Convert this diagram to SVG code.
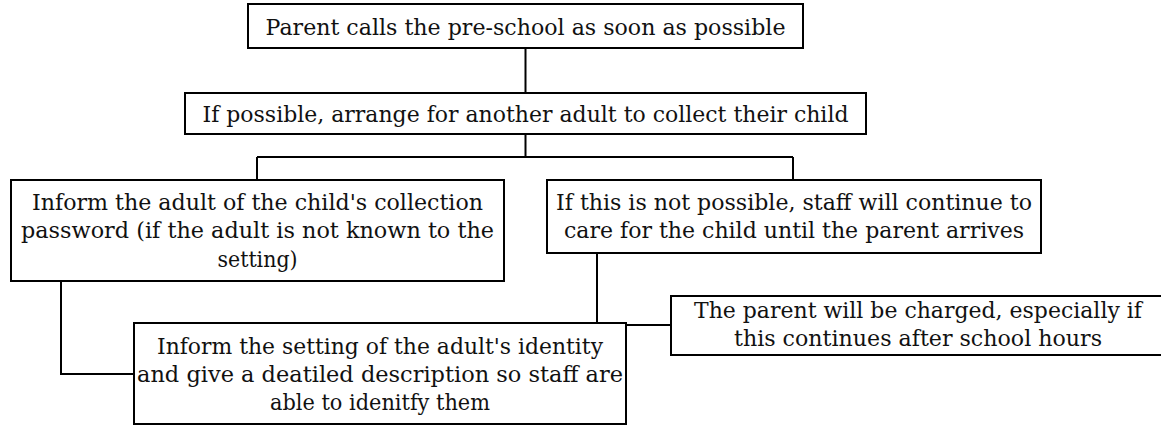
<svg xmlns="http://www.w3.org/2000/svg" width="1161" height="425" viewBox="0 0 1161 425">
<style>
.box{fill:#fff;stroke:#000;stroke-width:2}
.t{font-family:"DejaVu Serif","Liberation Serif",serif;font-size:23px;fill:#111;text-anchor:middle}
.c{fill:none;stroke:#000;stroke-width:2}
</style>
<rect width="1161" height="425" fill="#fff"/>
<g id="connectors">
<path class="c" d="M525.5 48V93M525.5 134V157M257 157H793M257 157V180M793 157V180M61 281V374H134M597 253V323M626 325H671"/>
</g>
<g id="n1">
<rect class="box" x="248" y="4" width="555" height="44"/>
<text class="t" x="525.5" y="34.5" textLength="520" lengthAdjust="spacingAndGlyphs">Parent calls the pre-school as soon as possible</text>
</g>
<g id="n2">
<rect class="box" x="185" y="93" width="681" height="41"/>
<text class="t" x="525.5" y="121.5" textLength="646" lengthAdjust="spacingAndGlyphs">If possible, arrange for another adult to collect their child</text>
</g>
<g id="n3">
<rect class="box" x="11" y="180" width="493" height="101"/>
<text class="t" x="257.5" y="209.5" textLength="451" lengthAdjust="spacingAndGlyphs">Inform the adult of the child's collection</text>
<text class="t" x="257.5" y="238" textLength="473" lengthAdjust="spacingAndGlyphs">password (if the adult is not known to the</text>
<text class="t" x="257.5" y="266.5" textLength="80" lengthAdjust="spacingAndGlyphs">setting)</text>
</g>
<g id="n4">
<rect class="box" x="547" y="180" width="494" height="73"/>
<text class="t" x="794" y="209.5" textLength="476" lengthAdjust="spacingAndGlyphs">If this is not possible, staff will continue to</text>
<text class="t" x="794" y="238" textLength="460" lengthAdjust="spacingAndGlyphs">care for the child until the parent arrives</text>
</g>
<g id="n5">
<rect class="box" x="134" y="323" width="492" height="101"/>
<text class="t" x="380" y="354" textLength="446" lengthAdjust="spacingAndGlyphs">Inform the setting of the adult's identity</text>
<text class="t" x="380" y="382" textLength="486" lengthAdjust="spacingAndGlyphs">and give a deatiled description so staff are</text>
<text class="t" x="380" y="410" textLength="220" lengthAdjust="spacingAndGlyphs">able to idenitfy them</text>
</g>
<g id="n6">
<rect class="box" x="671" y="296" width="491" height="59"/>
<text class="t" x="918" y="318" textLength="448" lengthAdjust="spacingAndGlyphs">The parent will be charged, especially if</text>
<text class="t" x="918" y="346" textLength="368" lengthAdjust="spacingAndGlyphs">this continues after school hours</text>
</g>
</svg>
